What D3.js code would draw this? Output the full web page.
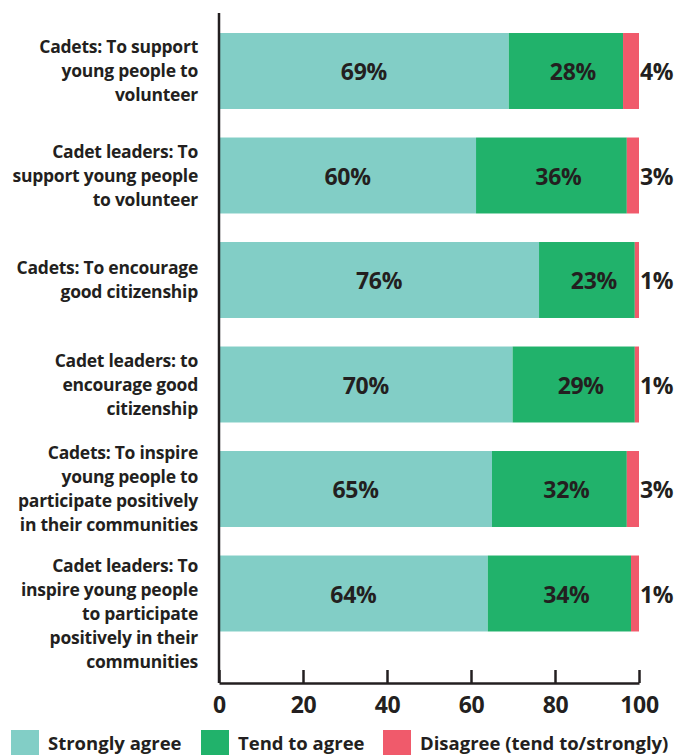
<!DOCTYPE html>
<html>
<head>
<meta charset="utf-8">
<script src="https://cdn.jsdelivr.net/npm/d3@7"></script>
<style>
  body { margin: 0; background: #fff; }
  svg { display: block; font-family: "Open Sans", sans-serif; font-weight: 700; }
</style>
</head>
<body>
<div id="chart"></div>
<script>
'use strict';

// categories (line breaks as in the original)
const categories = [
  ["Cadets: To support", "young people to", "volunteer"],
  ["Cadet leaders: To", "support young people", "to volunteer"],
  ["Cadets: To encourage", "good citizenship"],
  ["Cadet leaders: to", "encourage good", "citizenship"],
  ["Cadets: To inspire", "young people to", "participate positively", "in their communities"],
  ["Cadet leaders: To", "inspire young people", "to participate", "positively in their", "communities"]
];
// printed labels
const stronglyAgreeLabel = [69, 60, 76, 70, 65, 64];
const tendToAgreeLabel   = [28, 36, 23, 29, 32, 34];
const disagreeLabel      = [4, 3, 1, 1, 3, 1];
// bar lengths as drawn (unrounded shares)
const stronglyAgree = [69.0, 61.2, 76.2, 69.9, 65.0, 64.0];
const tendToAgree   = [27.2, 35.9, 22.8, 29.1, 32.1, 34.1];
const disagree      = [3.8, 2.9, 1.0, 1.0, 2.9, 1.9];
const seriesNames = ["Strongly agree", "Tend to agree", "Disagree (tend to/strongly)"];
const seriesColors = ["#82cec6", "#21b26b", "#f05a6b"];
const xTicks = [0, 20, 40, 60, 80, 100];

const width = 688, height = 755;
const x0 = 219, x1 = 639;
const axisTop = 13, axisBottom = 683;

let svg = d3.select("#chart").append("svg")
    .attr("width", width)
    .attr("height", height);

let rows = categories.map(function(c, i) {
    return { key: i, s0: stronglyAgree[i], s1: tendToAgree[i], s2: disagree[i] };
});

let stack = d3.stack()
    .keys(["s0", "s1", "s2"]);
let layers = stack(rows);

let x = d3.scaleLinear().domain([0, 100]).range([x0, x1]);

let y = d3.scaleBand()
    .domain(d3.range(categories.length))
    .range([18.75, 645.75])
    .paddingInner(0.273)
    .paddingOuter(0.1365);

// bars
let layer = svg.selectAll(".layer")
    .data(layers)
    .enter().append("g")
        .attr("class", "layer")
        .attr("fill", function(d, i) { return seriesColors[i]; });

layer.selectAll("rect")
    .data(function(d) { return d; })
    .enter().append("rect")
        .attr("x", function(d) { return x(d[0]); })
        .attr("width", function(d) { return x(d[1]) - x(d[0]); })
        .attr("y", function(d, i) { return y(i); })
        .attr("height", y.bandwidth());

// value labels
const labels = [stronglyAgreeLabel, tendToAgreeLabel, disagreeLabel];
layers.forEach(function(l, si) {
    svg.append("g").selectAll("text")
        .data(l)
        .enter().append("text")
            .attr("x", function(d) {
                if (si === 2) return x(d[1]) + 1;
                return (x(d[0]) + x(d[1])) / 2 + (si === 1 ? 7 : 0);
            })
            .attr("y", function(d, i) { return y(i) + y.bandwidth() / 2; })
            .attr("dy", "0.4em")
            .attr("text-anchor", si === 2 ? "start" : "middle")
            .attr("font-size", 23)
            .attr("letter-spacing", "-0.3px")
            .attr("fill", "#231f20")
            .text(function(d, i) { return labels[si][i] + "%"; });
});

// category labels
const lineH = 24;
categories.forEach(function(lines, i) {
    let mid = y(i) + y.bandwidth() / 2;
    let first = mid - (lines.length - 1) * lineH / 2;
    if (lines.length > 4) first = y(i) + 10;
    let t = svg.append("text")
        .attr("text-anchor", "end")
        .attr("font-size", 17.5)
        .attr("fill", "#231f20")
        .attr("letter-spacing", "-0.25px");
    lines.forEach(function(line, j) {
        t.append("tspan")
            .attr("x", 198)
            .attr("y", first + j * lineH)
            .attr("dy", "0.35em")
            .text(line);
    });
});

// axes
svg.append("line")
    .attr("x1", x0).attr("x2", x0)
    .attr("y1", axisTop).attr("y2", axisBottom)
    .attr("stroke", "#231f20").attr("stroke-width", 2.5);

let xAxis = d3.axisBottom(x)
    .tickValues(xTicks)
    .tickSize(-13)
    .tickSizeOuter(0)
    .tickPadding(10);

let gx = svg.append("g")
    .attr("transform", "translate(0," + axisBottom + ")")
    .call(xAxis);
gx.select(".domain").attr("stroke", "#231f20").attr("stroke-width", 2.5);
gx.selectAll(".tick line").attr("stroke", "#231f20").attr("stroke-width", 2.5);
gx.selectAll(".tick text")
    .attr("y", 22)
    .attr("dy", "0.35em")
    .attr("font-family", "Open Sans, sans-serif")
    .attr("font-weight", 700)
    .attr("font-size", 23)
    .attr("letter-spacing", "-0.3px")
    .attr("fill", "#231f20");

// legend
const legendX = [11, 201, 383];
let legend = svg.selectAll(".legend")
    .data(seriesNames)
    .enter().append("g")
        .attr("class", "legend")
        .attr("transform", function(d, i) { return "translate(" + legendX[i] + ",730)"; });
legend.append("rect")
    .attr("width", 28)
    .attr("height", 26)
    .attr("fill", function(d, i) { return seriesColors[i]; });
legend.append("text")
    .attr("x", 37)
    .attr("y", 14)
    .attr("dy", "0.35em")
    .attr("font-size", 18.5)
    .attr("fill", "#231f20")
    .text(function(d) { return d; });
</script>
</body>
</html>
